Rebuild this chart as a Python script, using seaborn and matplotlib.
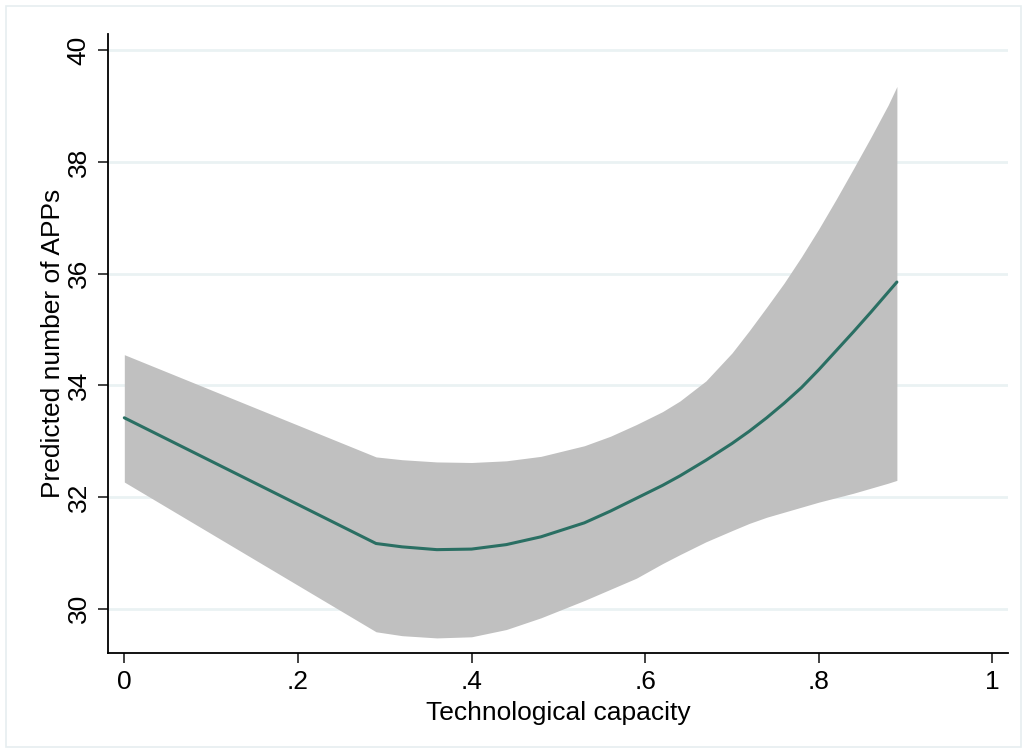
import matplotlib
matplotlib.use("Agg")
import matplotlib.pyplot as plt
import seaborn as sns
import pandas as pd
from matplotlib.patches import Rectangle

# Data
tech_capacity = [0.00, 0.29, 0.32, 0.36, 0.40, 0.44, 0.48, 0.53, 0.56, 0.59,
                 0.62, 0.64, 0.67, 0.70, 0.72, 0.74, 0.76, 0.78, 0.80, 0.82,
                 0.84, 0.86, 0.88, 0.89]
predicted = [33.42, 31.17, 31.11, 31.06, 31.07, 31.15, 31.29, 31.54, 31.75, 31.98,
             32.21, 32.38, 32.66, 32.96, 33.18, 33.42, 33.68, 33.96, 34.28, 34.62,
             34.96, 35.31, 35.67, 35.85]
ci_upper = [34.55, 32.72, 32.67, 32.63, 32.62, 32.65, 32.73, 32.92, 33.09, 33.30,
            33.53, 33.72, 34.08, 34.58, 34.98, 35.40, 35.83, 36.30, 36.80, 37.33,
            37.88, 38.44, 39.02, 39.35]
ci_lower = [32.27, 29.59, 29.52, 29.48, 29.50, 29.63, 29.84, 30.15, 30.35, 30.55,
            30.81, 30.97, 31.20, 31.40, 31.53, 31.64, 31.73, 31.82, 31.91, 31.99,
            32.07, 32.16, 32.25, 32.30]
x_ticks = [0, 0.2, 0.4, 0.6, 0.8, 1.0]
x_ticklabels = ["0", ".2", ".4", ".6", ".8", "1"]
y_ticks = [30, 32, 34, 36, 38, 40]
y_ticklabels = ["30", "32", "34", "36", "38", "40"]

df = pd.DataFrame({"x": tech_capacity, "y": predicted,
                   "lo": ci_lower, "hi": ci_upper})

sns.set_style("white")
plt.rcParams["font.family"] = ["Liberation Sans", "DejaVu Sans"]

fig = plt.figure(figsize=(10.22, 7.53), dpi=100)
ax = fig.add_axes([108 / 1022, 1 - 653 / 753, (1008 - 108) / 1022, (653 - 34) / 753])

# outer graph-region frame
fig.patches.append(Rectangle((6 / 1022, 6 / 753), 1015 / 1022, 741 / 753,
                             transform=fig.transFigure, fill=False,
                             edgecolor="#e6eef0", linewidth=1.2))

for yt in y_ticks:
    ax.axhline(yt, color="#eaf2f3", linewidth=2, zorder=0)

ax.fill_between(df["x"], df["lo"], df["hi"], color="#c0c0c0", linewidth=0, zorder=1)
sns.lineplot(data=df, x="x", y="y", ax=ax, color="#2a6f63", linewidth=2.2,
             zorder=2, estimator=None, sort=False)

ax.set_xlim(-0.0188, 1.018)
ax.set_ylim(29.21, 40.29)
ax.set_xticks(x_ticks)
ax.set_xticklabels(x_ticklabels)
ax.set_yticks(y_ticks)
ax.set_yticklabels(y_ticklabels, rotation=90, va="center")

for s in ["top", "right"]:
    ax.spines[s].set_visible(False)
for s in ["left", "bottom"]:
    ax.spines[s].set_color("#000000")
    ax.spines[s].set_linewidth(1.3)

ax.tick_params(axis="both", which="major", length=7.5, width=1.3, color="#333333",
               labelsize=19, labelcolor="black", pad=5, direction="out",
               left=True, bottom=True)

ax.set_xlabel("Technological capacity", fontsize=19, color="black", labelpad=4.5)
ax.set_ylabel("Predicted number of APPs", fontsize=19, color="black", labelpad=1.5)

fig.savefig("out.png", dpi=100)
